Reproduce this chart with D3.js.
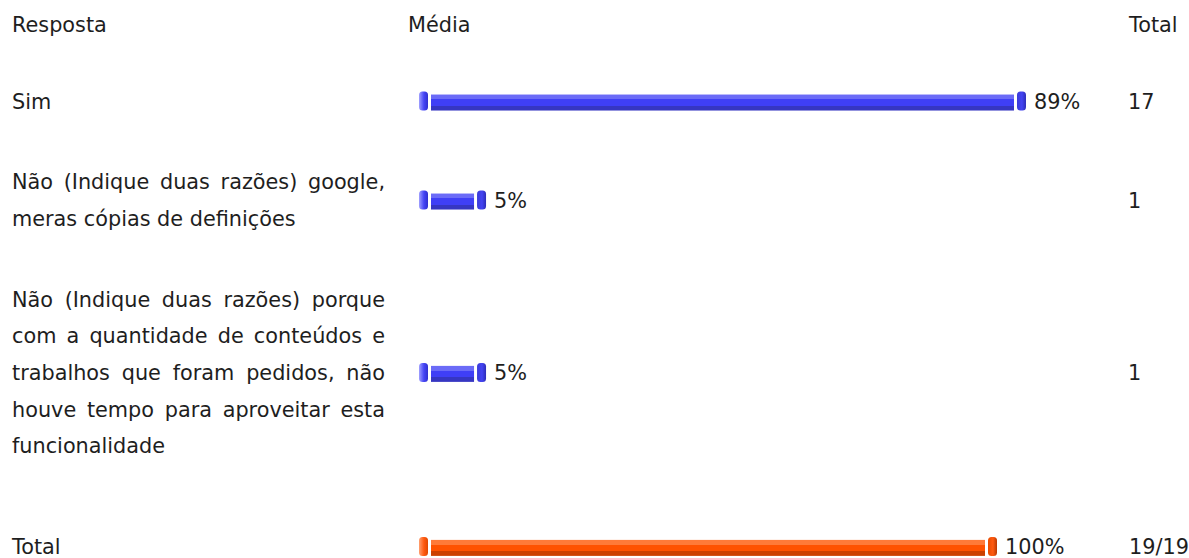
<!DOCTYPE html>
<html>
<head>
<meta charset="utf-8">
<script src="https://cdn.jsdelivr.net/npm/d3@7"></script>
<style>
  html, body { margin: 0; padding: 0; background: #fff; }
  svg { display: block; }
  text { font-family: "DejaVu Sans", Verdana, sans-serif; font-size: 20.8px; fill: #1e1e1e; }
</style>
</head>
<body>
<svg id="chart" width="1189" height="558"></svg>
<script>
// Answer labels (one entry per printed line), percentages and counts
const answers = [
  ["Sim"],
  ["Não (Indique duas razões) google,", "meras cópias de definições"],
  ["Não (Indique duas razões) porque", "com a quantidade de conteúdos e",
   "trabalhos que foram pedidos, não", "houve tempo para aproveitar esta",
   "funcionalidade"]
];
const percents = [89, 5, 5];
const counts = ["17", "1", "1"];
const headers = ["Resposta", "Média", "Total"];
const totalLabel = "Total";
const totalPercent = 100;
const totalCount = "19/19";

const svg = d3.select("#chart");
const defs = svg.append("defs");

// layout
const textX = 12, textW = 373;
const barX = 419, capW = 9, capGap = 3;
const countX = 1128;
const lineH = 36.67, pad = 22, firstTop = 61.2, totalGap = 20;

// bar body length scales (answer rows and summary row)
const xAns = d3.scaleLinear().domain([0, 100]).range([10.9, 653.7]);
const xTot = d3.scaleLinear().domain([0, 100]).range([0, 554]);

// gradients
function bodyGrad(id, light, main, dark) {
  const g = defs.append("linearGradient").attr("id", id)
    .attr("x1", 0).attr("y1", 0).attr("x2", 0).attr("y2", 1);
  [[0, light], [0.3, light], [0.3, main], [0.72, main], [0.72, dark], [1, dark]]
    .forEach(([o, c]) => g.append("stop").attr("offset", o).attr("stop-color", c));
}
function capGrad(id, light, main, dark) {
  const g = defs.append("linearGradient").attr("id", id)
    .attr("x1", 0).attr("y1", 0).attr("x2", 1).attr("y2", 0);
  [[0, light], [0.55, main], [1, dark]]
    .forEach(([o, c]) => g.append("stop").attr("offset", o).attr("stop-color", c));
}
bodyGrad("blueBody", "#6b6bf7", "#3f3ff6", "#3636c2");
capGrad("blueCapL", "#a0a0ff", "#4545f5", "#3030d0");
capGrad("blueCapR", "#3a3ad8", "#4444f2", "#2c2cb8");
bodyGrad("orBody", "#ff7a38", "#ff5200", "#cc4000");
capGrad("orCapL", "#ffa070", "#ff5a10", "#e04800");
capGrad("orCapR", "#e84c00", "#ff5a10", "#b83800");

function drawBar(cy, len, pal) {
  const g = svg.append("g");
  const capTop = cy - 10, capH = 19;
  const bodyTop = cy - 7, bodyH = 16;
  g.append("rect").attr("x", barX).attr("y", capTop).attr("width", capW).attr("height", capH)
    .attr("rx", 3.5).attr("fill", `url(#${pal}CapL)`);
  const bx = barX + capW + capGap;
  g.append("rect").attr("x", bx).attr("y", bodyTop).attr("width", len).attr("height", bodyH)
    .attr("fill", `url(#${pal}Body)`);
  const rx = bx + len + capGap;
  g.append("rect").attr("x", rx).attr("y", capTop).attr("width", capW).attr("height", capH)
    .attr("rx", 3.5).attr("fill", `url(#${pal}CapR)`);
  return rx + capW;
}

// justified multi-line label
function drawLines(lines, cy) {
  const n = lines.length;
  const first = cy - (n - 1) * lineH / 2;
  lines.forEach((line, i) => {
    const base = first + i * lineH + 7;
    const justify = i < n - 1;
    if (!justify) {
      svg.append("text").attr("x", textX).attr("y", base).text(line);
      return;
    }
    const words = line.split(" ");
    const nodes = words.map(w => svg.append("text").attr("y", base).text(w));
    const widths = nodes.map(t => t.node().getComputedTextLength());
    const gap = (textW - d3.sum(widths)) / (words.length - 1);
    let x = textX;
    nodes.forEach((t, j) => { t.attr("x", x); x += widths[j] + gap; });
  });
}

// header
svg.append("text").attr("x", textX).attr("y", 31.7).text(headers[0]);
svg.append("text").attr("x", 408).attr("y", 31.7).text(headers[1]);
svg.append("text").attr("x", countX + 1).attr("y", 31.7).text(headers[2]);

// answer rows
let rowTop = firstTop;
answers.forEach((lines, i) => {
  const h = lines.length * lineH;
  const cy = rowTop + pad + h / 2;
  drawLines(lines, cy);
  const end = drawBar(cy, xAns(percents[i]), "blue");
  svg.append("text").attr("x", end + 8).attr("y", cy + 7).text(percents[i] + "%");
  svg.append("text").attr("x", countX).attr("y", cy + 7).text(counts[i]);
  rowTop += h + 2 * pad;
});

// summary row
const tcy = rowTop + totalGap + pad + lineH / 2;
svg.append("text").attr("x", textX).attr("y", tcy + 7).text(totalLabel);
const tend = drawBar(tcy, xTot(totalPercent), "or");
svg.append("text").attr("x", tend + 8).attr("y", tcy + 7).text(totalPercent + "%");
svg.append("text").attr("x", countX + 1).attr("y", tcy + 7).text(totalCount);
</script>
</body>
</html>
